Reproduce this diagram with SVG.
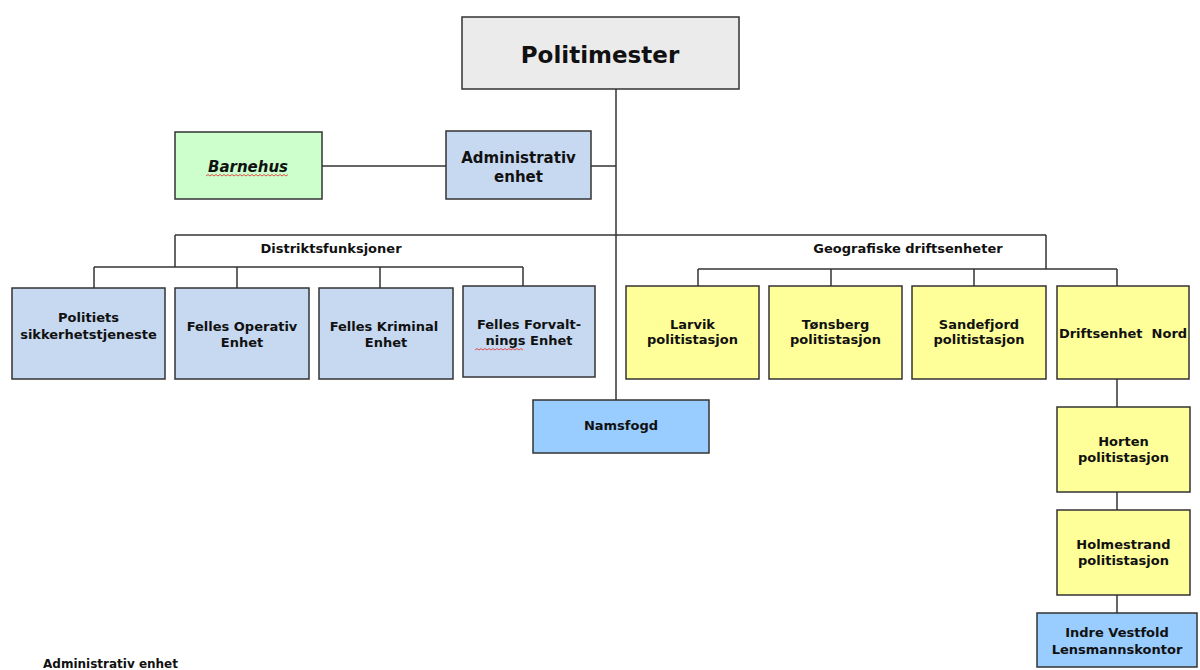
<svg xmlns="http://www.w3.org/2000/svg" width="1200" height="670" viewBox="0 0 1200 670">
<style>
.box{stroke:#333;stroke-width:1.5}
.gray{fill:#ebebeb}
.green{fill:#ccffcc}
.lblue{fill:#c6d9f1}
.blue{fill:#99ccff}
.yellow{fill:#ffff99}
text{font-family:"DejaVu Sans","Verdana",sans-serif;font-weight:bold;fill:#111;text-anchor:middle;font-size:13px}
.conn line{stroke:#333;stroke-width:1.5}
.squig{fill:none;stroke:#e04040;stroke-width:0.9}
</style>
<rect width="1200" height="670" fill="#fff"/>
<g class="conn">
<line x1="616" y1="89" x2="616" y2="400"/>
<line x1="591" y1="166" x2="616" y2="166"/>
<line x1="322" y1="166" x2="446" y2="166"/>
<line x1="175" y1="235" x2="1046" y2="235"/>
<line x1="175" y1="235" x2="175" y2="267"/>
<line x1="1046" y1="235" x2="1046" y2="269"/>
<line x1="94" y1="267" x2="523" y2="267"/>
<line x1="94" y1="267" x2="94" y2="288"/>
<line x1="237" y1="267" x2="237" y2="288"/>
<line x1="380" y1="267" x2="380" y2="288"/>
<line x1="523" y1="267" x2="523" y2="286"/>
<line x1="698" y1="269" x2="1117" y2="269"/>
<line x1="698" y1="269" x2="698" y2="286"/>
<line x1="831" y1="269" x2="831" y2="286"/>
<line x1="974" y1="269" x2="974" y2="286"/>
<line x1="1117" y1="269" x2="1117" y2="286"/>
<line x1="1117" y1="379" x2="1117" y2="407"/>
<line x1="1117" y1="492" x2="1117" y2="510"/>
<line x1="1117" y1="595" x2="1117" y2="613"/>
</g>
<text x="331" y="253">Distriktsfunksjoner</text>
<text x="908" y="253">Geografiske driftsenheter</text>
<g id="politimester">
<rect class="box gray" x="462" y="17" width="277" height="72"/>
<text x="600" y="63" style="font-size:23px">Politimester</text>
</g>
<g id="barnehus">
<rect class="box green" x="175" y="132" width="147" height="67"/>
<text x="248" y="172" style="font-size:15px;font-style:italic">Barnehus</text>
<path class="squig" d="M206 176 l2 -1.5 l2 1.5 l2 -1.5 l2 1.5 l2 -1.5 l2 1.5 l2 -1.5 l2 1.5 l2 -1.5 l2 1.5 l2 -1.5 l2 1.5 l2 -1.5 l2 1.5 l2 -1.5 l2 1.5 l2 -1.5 l2 1.5 l2 -1.5 l2 1.5 l2 -1.5 l2 1.5 l2 -1.5 l2 1.5 l2 -1.5 l2 1.5 l2 -1.5 l2 1.5 l2 -1.5 l2 1.5 l2 -1.5 l2 1.5 l2 -1.5 l2 1.5 l2 -1.5 l2 1.5 l2 -1.5 l2 1.5 l2 -1.5 l2 1.5 l2 -1.5"/>
</g>
<g id="admin">
<rect class="box lblue" x="446" y="131" width="145" height="68"/>
<text x="518.5" y="163" style="font-size:15px">Administrativ</text>
<text x="518.5" y="182" style="font-size:15px">enhet</text>
</g>
<g id="pst">
<rect class="box lblue" x="12" y="288" width="153" height="91"/>
<text x="88.5" y="322">Politiets</text>
<text x="88.5" y="339">sikkerhetstjeneste</text>
</g>
<g id="foe">
<rect class="box lblue" x="175" y="288" width="134" height="91"/>
<text x="242" y="331">Felles Operativ</text>
<text x="242" y="347">Enhet</text>
</g>
<g id="fke">
<rect class="box lblue" x="319" y="288" width="134" height="91"/>
<text x="384" y="331">Felles Kriminal</text>
<text x="386" y="347">Enhet</text>
</g>
<g id="ffe">
<rect class="box lblue" x="463" y="286" width="132" height="91"/>
<text x="529" y="329">Felles Forvalt-</text>
<text x="529" y="345">nings Enhet</text>
<path class="squig" d="M475 350 l2 -1.5 l2 1.5 l2 -1.5 l2 1.5 l2 -1.5 l2 1.5 l2 -1.5 l2 1.5 l2 -1.5 l2 1.5 l2 -1.5 l2 1.5 l2 -1.5 l2 1.5 l2 -1.5 l2 1.5 l2 -1.5 l2 1.5 l2 -1.5 l2 1.5 l2 -1.5 l2 1.5 l2 -1.5 l2 1.5"/>
</g>
<g id="namsfogd">
<rect class="box blue" x="533" y="400" width="176" height="53"/>
<text x="621" y="430">Namsfogd</text>
</g>
<g id="larvik">
<rect class="box yellow" x="626" y="286" width="133" height="93"/>
<text x="692.5" y="329">Larvik</text>
<text x="692.5" y="344">politistasjon</text>
</g>
<g id="tonsberg">
<rect class="box yellow" x="769" y="286" width="133" height="93"/>
<text x="835.5" y="329">Tønsberg</text>
<text x="835.5" y="344">politistasjon</text>
</g>
<g id="sandefjord">
<rect class="box yellow" x="912" y="286" width="134" height="93"/>
<text x="979" y="329">Sandefjord</text>
<text x="979" y="344">politistasjon</text>
</g>
<g id="driftsenhet">
<rect class="box yellow" x="1057" y="286" width="132" height="93"/>
<text x="1123" y="338">Driftsenhet&#160; Nord</text>
</g>
<g id="horten">
<rect class="box yellow" x="1057" y="407" width="133" height="85"/>
<text x="1123.5" y="446">Horten</text>
<text x="1123.5" y="462">politistasjon</text>
</g>
<g id="holmestrand">
<rect class="box yellow" x="1057" y="510" width="133" height="85"/>
<text x="1123.5" y="549">Holmestrand</text>
<text x="1123.5" y="565">politistasjon</text>
</g>
<g id="indre">
<rect class="box blue" x="1037" y="613" width="160" height="54"/>
<text x="1117" y="637">Indre Vestfold</text>
<text x="1117" y="654">Lensmannskontor</text>
</g>
<text x="43" y="668" style="font-size:12px;text-anchor:start">Administrativ enhet</text>
</svg>
